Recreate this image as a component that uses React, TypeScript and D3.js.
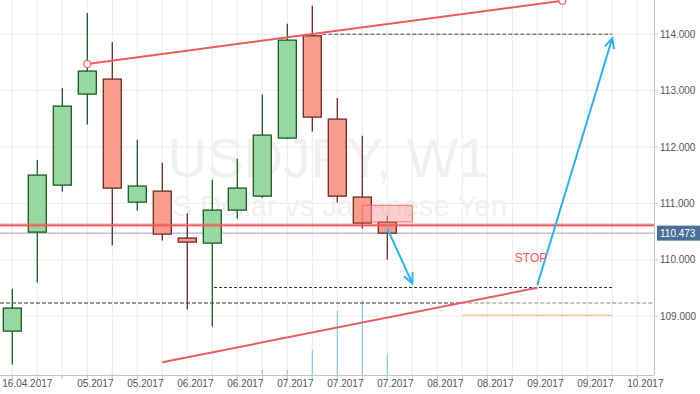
import React from "react";
import * as d3 from "d3";

// ---- data ----
const candleOpen = [108.736, 110.491, 111.324, 112.938, 113.204, 111.023, 111.218, 110.385, 110.296, 110.881, 111.129, 112.158, 113.972, 112.495, 111.112, 110.668];
const candleClose = [109.144, 111.502, 112.725, 113.346, 111.271, 111.307, 110.456, 110.314, 110.881, 111.271, 112.211, 113.895, 112.530, 111.129, 110.651, 110.473];
const candleHigh = [109.486, 111.768, 113.044, 114.374, 113.860, 112.128, 111.720, 110.821, 111.418, 111.791, 112.926, 114.184, 114.504, 112.867, 112.199, 110.780];
const candleLow = [108.144, 109.598, 111.211, 112.399, 110.254, 110.874, 110.342, 109.119, 108.817, 110.732, 111.100, 112.140, 112.275, 111.016, 110.555, 110.005];
const volumes = [0, 40, 0, 0, 40, 0, 0, 0, 0, 40, 200, 200, 1000, 2560, 3000, 840];

const priceTicks = [109, 110, 111, 112, 113, 114];
const dateLabelIdx = [0, 3, 5, 7, 9, 11, 13, 15, 17, 19, 21, 23, 25];
const dateLabels = ["16.04.2017", "05.2017", "05.2017", "06.2017", "06.2017", "07.2017", "07.2017", "07.2017", "08.2017", "08.2017", "09.2017", "09.2017", "10.2017"];

const lastPrice = 110.473;
const resistanceLevel = 110.612;
// trend lines [idx0, price0, idx1, price1]
const upperTrend = [3, 113.472, 22, 114.592];
const lowerTrend = [6, 108.183, 21, 109.505];
// dashed levels [price, idxStart, idxEnd] (null idx = edges)
const dashedFull = 109.234;
const dashedTarget = [109.509, 8.07, 24];
const dashedTop = [114.0, 12.4, 24];
const orangeLevel = [109.016, 18, 24];
// zone rectangle [idx0, idx1, priceTop, priceBottom]
const zone = [14, 16, 110.967, 110.671];
// arrows [idx0, p0, idx1, p1]
const arrow1 = [15, 110.555, 16, 109.583];
const arrow2 = [21, 109.553, 24, 113.927];
const stopLabel = [20.1, 109.965];

const W = 700, H = 394;
const plotRight = 654, plotBottom = 375;

export default function App() {
  const x = d3.scaleLinear().domain([0, 25]).range([12.3, 637.3]);
  const y = d3.scaleLinear().domain([109, 114]).range([316.2, 34.2]);
  const vol = d3.scaleLinear().domain([0, 3000]).range([plotBottom, 300]);
  const idxAll = d3.range(0, 26);
  const bodyW = 18;

  const green = { fill: "#97d7a0", stroke: "#1d5a24" };
  const red = { fill: "#f79d8e", stroke: "#6e2a20" };
  const trendColor = "#f05a5a";
  const blue = "#2ab2f2";
  const axisFont = "'Liberation Sans', Arial, sans-serif";

  const arrowHead = (a: number[]) => {
    const x1 = x(a[2]), y1 = y(a[3]);
    const ang = Math.atan2(y1 - y(a[1]), x1 - x(a[0]));
    const len = 11, spread = 0.45;
    const p1 = [x1 - len * Math.cos(ang - spread), y1 - len * Math.sin(ang - spread)];
    const p2 = [x1 - len * Math.cos(ang + spread), y1 - len * Math.sin(ang + spread)];
    return `M${p1[0]},${p1[1]}L${x1},${y1}L${p2[0]},${p2[1]}`;
  };

  return (
    <svg width={W} height={H} style={{ position: "absolute", left: 0, top: 0, background: "#fff" }}>
      {/* grid */}
      {idxAll.map((i) => (
        <line key={"gv" + i} x1={x(i)} x2={x(i)} y1={0} y2={plotBottom} stroke="#ececec" strokeWidth={1} />
      ))}
      {priceTicks.map((p) => (
        <line key={"gh" + p} x1={0} x2={plotRight} y1={y(p)} y2={y(p)} stroke="#ececec" strokeWidth={1} />
      ))}

      {/* watermark */}
      <text x={328} y={177} textAnchor="middle" fontFamily={axisFont} fontSize={56} fill="#f0f0f0"
        textLength={321} lengthAdjust="spacingAndGlyphs">USDJPY, W1</text>
      <text x={329} y={216} textAnchor="middle" fontFamily={axisFont} fontSize={30} fill="#f0f0f0"
        textLength={356} lengthAdjust="spacingAndGlyphs">US Dollar vs Japanese Yen</text>

      {/* volumes */}
      {volumes.map((v, i) => v > 0 ? (
        <line key={"v" + i} x1={x(i)} x2={x(i)} y1={vol(v)} y2={plotBottom} stroke="#6cc6f2" strokeWidth={1} />
      ) : null)}

      {/* dashed levels */}
      <line x1={0} x2={x(18)} y1={y(dashedFull)} y2={y(dashedFull)} stroke="#333" strokeDasharray="4,2" strokeWidth={1} />
      <line x1={x(18)} x2={plotRight} y1={y(dashedFull)} y2={y(dashedFull)} stroke="#888" strokeDasharray="4,2" strokeWidth={1} />
      <line x1={x(dashedTarget[1])} x2={x(dashedTarget[2])} y1={y(dashedTarget[0])} y2={y(dashedTarget[0])} stroke="#333" strokeDasharray="3,2" strokeWidth={1} />
      <line x1={x(dashedTop[1])} x2={x(dashedTop[2])} y1={y(dashedTop[0])} y2={y(dashedTop[0])} stroke="#444" strokeDasharray="4,2" strokeWidth={1} />
      <line x1={x(orangeLevel[1])} x2={x(orangeLevel[2])} y1={y(orangeLevel[0])} y2={y(orangeLevel[0])} stroke="#f2b872" strokeWidth={1} />

      {/* last price line */}
      <line x1={0} x2={plotRight} y1={y(lastPrice)} y2={y(lastPrice)} stroke="#9aa7b8" strokeWidth={1} />

      {/* candles */}
      {candleOpen.map((o, i) => {
        const c = candleClose[i];
        const col = c >= o ? green : red;
        const top = y(Math.max(o, c)), bot = y(Math.min(o, c));
        return (
          <g key={"c" + i}>
            <line x1={x(i)} x2={x(i)} y1={y(candleHigh[i])} y2={y(candleLow[i])} stroke={col.stroke} strokeWidth={1.3} />
            <rect x={x(i) - bodyW / 2} y={top} width={bodyW} height={Math.max(bot - top, 1)} fill={col.fill} stroke={col.stroke} strokeWidth={1.3} />
          </g>
        );
      })}

      {/* zone */}
      <rect x={x(zone[0])} y={y(zone[2])} width={x(zone[1]) - x(zone[0])} height={y(zone[3]) - y(zone[2])}
        fill="rgba(250,160,160,0.5)" stroke="#f06a6a" strokeWidth={1} />

      {/* resistance line */}
      <line x1={0} x2={plotRight} y1={y(resistanceLevel)} y2={y(resistanceLevel)} stroke="rgba(240,80,80,0.35)" strokeWidth={4} />
      <line x1={0} x2={plotRight} y1={y(resistanceLevel)} y2={y(resistanceLevel)} stroke="#f05a5a" strokeWidth={1.5} />

      {/* trend lines */}
      <line x1={x(upperTrend[0])} y1={y(upperTrend[1])} x2={x(upperTrend[2])} y2={y(upperTrend[3])} stroke={trendColor} strokeWidth={2} />
      <circle cx={x(upperTrend[0])} cy={y(upperTrend[1])} r={3.5} fill="#fff" stroke={trendColor} strokeWidth={1.2} />
      <circle cx={x(upperTrend[2])} cy={y(upperTrend[3])} r={3.5} fill="#fff" stroke={trendColor} strokeWidth={1.2} />
      <line x1={x(lowerTrend[0])} y1={y(lowerTrend[1])} x2={x(lowerTrend[2])} y2={y(lowerTrend[3])} stroke={trendColor} strokeWidth={2} />

      {/* arrows */}
      {[arrow1, arrow2].map((a, k) => (
        <g key={"a" + k} fill="none" stroke={blue} strokeWidth={2}>
          <line x1={x(a[0])} y1={y(a[1])} x2={x(a[2])} y2={y(a[3])} />
          <path d={arrowHead(a)} />
        </g>
      ))}

      <text x={x(stopLabel[0])} y={y(stopLabel[1])} fontFamily={axisFont} fontSize={12} fill="#f05a5a">STOP</text>

      {/* axes */}
      <line x1={0} x2={plotRight} y1={plotBottom + 0.5} y2={plotBottom + 0.5} stroke="#c4c4c4" strokeWidth={1} />
      <line x1={plotRight + 0.5} x2={plotRight + 0.5} y1={0} y2={plotBottom} stroke="#c4c4c4" strokeWidth={1} />
      {idxAll.map((i) => (
        <line key={"tx" + i} x1={x(i)} x2={x(i)} y1={plotBottom} y2={plotBottom + 4} stroke="#c4c4c4" />
      ))}
      {dateLabelIdx.map((i, k) => (
        <text key={"xl" + k} x={x(i) - 10} y={387} fontFamily={axisFont} fontSize={10} fill="#555">{dateLabels[k]}</text>
      ))}
      {priceTicks.map((p) => (
        <g key={"yt" + p}>
          <line x1={plotRight} x2={plotRight + 4} y1={y(p)} y2={y(p)} stroke="#c4c4c4" />
          <text x={660} y={y(p) + 3.5} fontFamily={axisFont} fontSize={10} fill="#555">{p.toFixed(3)}</text>
        </g>
      ))}
      <rect x={plotRight + 3} y={y(lastPrice) - 7.5} width={43} height={15} fill="#4a6f98" />
      <text x={660} y={y(lastPrice) + 3.5} fontFamily={axisFont} fontSize={10} fill="#fff">{lastPrice.toFixed(3)}</text>
    </svg>
  );
}
